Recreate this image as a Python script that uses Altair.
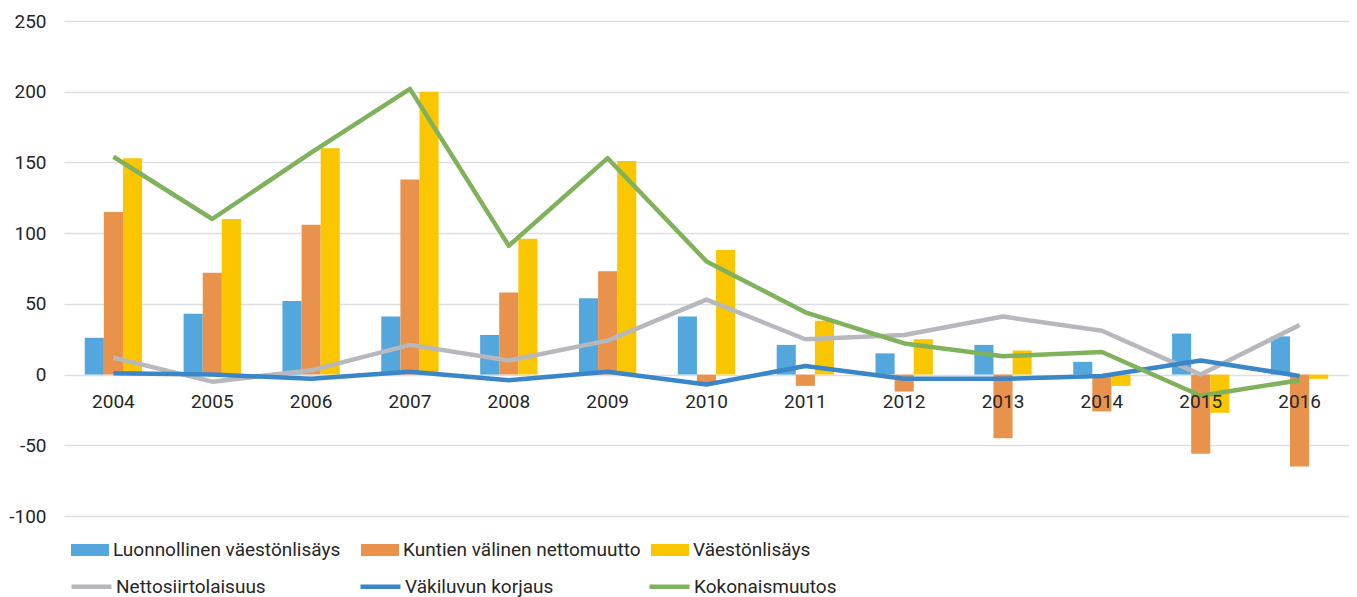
import altair as alt
import pandas as pd

years = ["2004", "2005", "2006", "2007", "2008", "2009", "2010",
         "2011", "2012", "2013", "2014", "2015", "2016"]

bar_series = ["Luonnollinen väestönlisäys", "Kuntien välinen nettomuutto", "Väestönlisäys"]
bar_colors = ["#53A7DD", "#E9924B", "#F9C600"]

luonnollinen = [26, 43, 52, 41, 28, 54, 41, 21, 15, 21, 9, 29, 27]
kuntien = [115, 72, 106, 138, 58, 73, -6, -8, -12, -45, -26, -56, -65]
vaestonlisays = [153, 110, 160, 200, 96, 151, 88, 38, 25, 17, -8, -27, -3]

line_series = ["Nettosiirtolaisuus", "Väkiluvun korjaus", "Kokonaismuutos"]
line_colors = ["#B7B8BE", "#3A86C8", "#80B15B"]

netto = [12, -5, 3, 21, 10, 24, 53, 25, 28, 41, 31, 0, 35]
korjaus = [1, 0, -3, 2, -4, 2, -7, 6, -3, -3, -1, 10, -1]
kokonais = [154, 110, 157, 202, 91, 153, 80, 44, 22, 13, 16, -15, -4]

y_ticks = [-100, -50, 0, 50, 100, 150, 200, 250]

FONT = "Roboto"
TEXT = "#262626"
FS = 19

bar_rows = []
for s, vals in zip(bar_series, [luonnollinen, kuntien, vaestonlisays]):
    for yv, v in zip(years, vals):
        bar_rows.append({"year": yv, "series": s, "value": v})
bar_df = pd.DataFrame(bar_rows)

line_rows = []
for s, vals in zip(line_series, [netto, korjaus, kokonais]):
    for yv, v in zip(years, vals):
        line_rows.append({"year": yv, "series": s, "value": v})
line_df = pd.DataFrame(line_rows)

year_df = pd.DataFrame({"year": years})

x_enc = alt.X("year:N", sort=years,
              scale=alt.Scale(paddingInner=0.42, paddingOuter=0.21),
              axis=None)
y_scale = alt.Scale(domain=[-100, 250], nice=False, zero=False)

bars = alt.Chart(bar_df).mark_bar().encode(
    x=x_enc,
    xOffset=alt.XOffset("series:N", sort=bar_series,
                        scale=alt.Scale(domain=bar_series, paddingInner=0, paddingOuter=0)),
    y=alt.Y("value:Q", scale=y_scale,
            axis=alt.Axis(values=y_ticks, title=None, grid=True, domain=False,
                          ticks=False, tickSize=0, labelPadding=18,
                          labelExpr="replace(datum.label, '\u2212', '-')",
                          labelFont=FONT, labelFontSize=FS, labelColor=TEXT,
                          gridColor="#DEDEE5", gridWidth=1.4)),
    color=alt.Color("series:N", sort=bar_series,
                    scale=alt.Scale(domain=bar_series, range=bar_colors),
                    legend=alt.Legend(title=None, orient="none", legendX=7, legendY=510,
                                      direction="horizontal", columns=3,
                                      symbolType="M-1,-0.32H1V0.32H-1Z",
                                      symbolSize=1444, symbolStrokeWidth=0,
                                      symbolOpacity=1,
                                      labelFont=FONT, labelFontSize=FS, labelColor=TEXT,
                                      labelOffset=4, labelLimit=500,
                                      columnPadding=10, gridAlign="all", padding=0)),
)

lines = alt.Chart(line_df).mark_line(strokeWidth=4.5, strokeJoin="round").encode(
    x=x_enc,
    y=alt.Y("value:Q", scale=y_scale),
    stroke=alt.Stroke("series:N", sort=line_series,
                      scale=alt.Scale(domain=line_series, range=line_colors),
                      legend=alt.Legend(title=None, orient="none", legendX=5, legendY=543,
                                        direction="horizontal", columns=3,
                                        symbolType="stroke", symbolSize=1600,
                                        symbolStrokeWidth=4.5,
                                        labelFont=FONT, labelFontSize=FS, labelColor=TEXT,
                                        labelOffset=2, labelLimit=500,
                                        columnPadding=85, gridAlign="all", padding=0)),
    order=alt.Order("series:N"),
)

labels = alt.Chart(year_df).mark_text(dy=27, font=FONT, fontSize=FS, color=TEXT).encode(
    x=x_enc,
    y=alt.datum(0),
    text="year:N",
)

chart = alt.layer(bars, lines, labels).resolve_scale(
    color="independent"
).properties(
    width=1285,
    height=495,
    padding={"left": 0, "top": 4, "right": 0, "bottom": 0},
).configure_view(stroke=None)

chart.save("out.html", embed_options={"renderer": "svg", "actions": False})
